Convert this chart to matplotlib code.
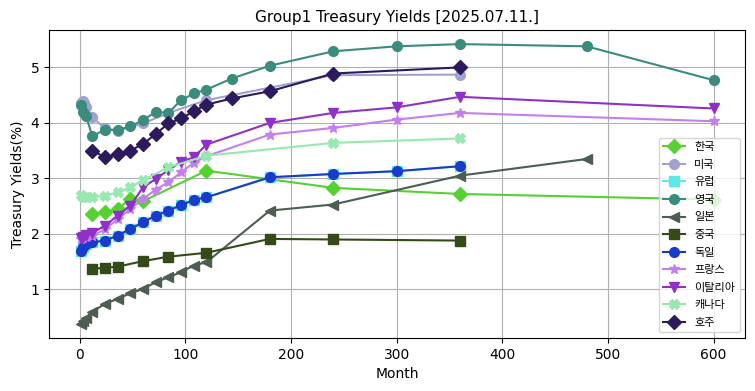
import numpy as np
import matplotlib
matplotlib.use("Agg")
import matplotlib.pyplot as plt

plt.rcParams['font.family'] = ['DejaVu Sans', 'Noto Sans CJK KR']

# Yield curves by country (months to maturity, yield %)
kr_m = [12, 24, 36, 48, 60, 120, 240, 360, 600]
kr_y = [2.36, 2.39, 2.45, 2.63, 2.59, 3.14, 2.83, 2.72, 2.62]

us_m = [1, 2, 3, 4, 6, 12, 24, 36, 60, 84, 120, 240, 360]
us_y = [4.35, 4.38, 4.39, 4.36, 4.28, 4.10, 3.90, 3.86, 3.99, 4.18, 4.41, 4.86, 4.87]

uk_m = [1, 3, 6, 12, 24, 36, 48, 60, 72, 84, 96, 108, 120, 144, 180, 240, 300, 360, 480, 600]
uk_y = [4.32, 4.19, 4.13, 3.76, 3.88, 3.87, 3.94, 4.05, 4.20, 4.18, 4.41, 4.53, 4.60,
        4.80, 5.03, 5.29, 5.38, 5.42, 5.38, 4.77]

jp_m = [1, 3, 6, 12, 24, 36, 48, 60, 72, 84, 96, 108, 120, 180, 240, 360, 480]
jp_y = [0.38, 0.43, 0.48, 0.60, 0.74, 0.83, 0.93, 1.01, 1.13, 1.22, 1.31, 1.43, 1.49,
        2.42, 2.53, 3.05, 3.35]

cn_m = [12, 24, 36, 60, 84, 120, 180, 240, 360]
cn_y = [1.37, 1.39, 1.41, 1.51, 1.59, 1.66, 1.91, 1.90, 1.88]

de_m = [1, 3, 6, 12, 24, 36, 48, 60, 72, 84, 96, 108, 120, 180, 240, 300, 360]
de_y = [1.70, 1.76, 1.82, 1.85, 1.88, 1.97, 2.09, 2.21, 2.33, 2.42, 2.52, 2.61, 2.66,
        3.02, 3.08, 3.13, 3.22]

# Euro area curve sits under the German one
eu_m = de_m
eu_y = de_y

fr_m = [1, 3, 6, 12, 24, 36, 48, 60, 72, 84, 96, 108, 120, 180, 240, 300, 360, 600]
fr_y = [1.90, 1.93, 1.95, 1.97, 2.08, 2.27, 2.45, 2.63, 2.80, 2.93, 3.11, 3.28, 3.40,
        3.79, 3.91, 4.06, 4.18, 4.03]

it_m = [1, 3, 6, 12, 24, 36, 48, 60, 72, 84, 96, 108, 120, 180, 240, 300, 360, 600]
it_y = [1.93, 1.95, 1.98, 2.02, 2.15, 2.33, 2.51, 2.84, 2.99, 3.15, 3.30, 3.38, 3.61,
        4.00, 4.18, 4.28, 4.47, 4.26]

ca_m = [1, 3, 6, 12, 24, 36, 48, 60, 84, 120, 240, 360]
ca_y = [2.70, 2.67, 2.66, 2.66, 2.69, 2.75, 2.84, 2.97, 3.20, 3.41, 3.64, 3.72]

au_m = [12, 24, 36, 48, 60, 72, 84, 96, 108, 120, 144, 180, 240, 360]
au_y = [3.50, 3.38, 3.44, 3.50, 3.62, 3.80, 3.99, 4.08, 4.21, 4.33, 4.44, 4.57, 4.89, 5.00]

series = [
    ('한국', kr_m, kr_y, 'D', '#55d132'),
    ('미국', us_m, us_y, 'o', '#a0a2d2'),
    ('유럽', eu_m, eu_y, 's', '#5fe8e8'),
    ('영국', uk_m, uk_y, 'o', '#3a8c7c'),
    ('일본', jp_m, jp_y, '<', '#4c5e52'),
    ('중국', cn_m, cn_y, 's', '#344a18'),
    ('독일', de_m, de_y, 'o', '#1a3acc'),
    ('프랑스', fr_m, fr_y, '*', '#c47ef0'),
    ('이탈리아', it_m, it_y, 'v', '#9030c8'),
    ('캐나다', ca_m, ca_y, 'X', '#98e8b0'),
    ('호주', au_m, au_y, 'D', '#2c1a5c'),
]

fig, ax = plt.subplots(figsize=(7.55, 3.91), dpi=100)
for name, m, y, mk, col in series:
    ax.plot(m, y, marker=mk, color=col, label=name, markersize=7)

ax.set_title('Group1 Treasury Yields [2025.07.11.]', fontsize=11)
ax.set_xlabel('Month')
ax.set_ylabel('Treasury Yields(%)')
ax.grid(True)
ax.legend(loc='lower right', prop={'family': 'Noto Sans CJK KR', 'size': 8},
          labelspacing=0.68)
fig.subplots_adjust(left=0.065, right=0.987, top=0.923, bottom=0.136)
plt.savefig('out.png')
